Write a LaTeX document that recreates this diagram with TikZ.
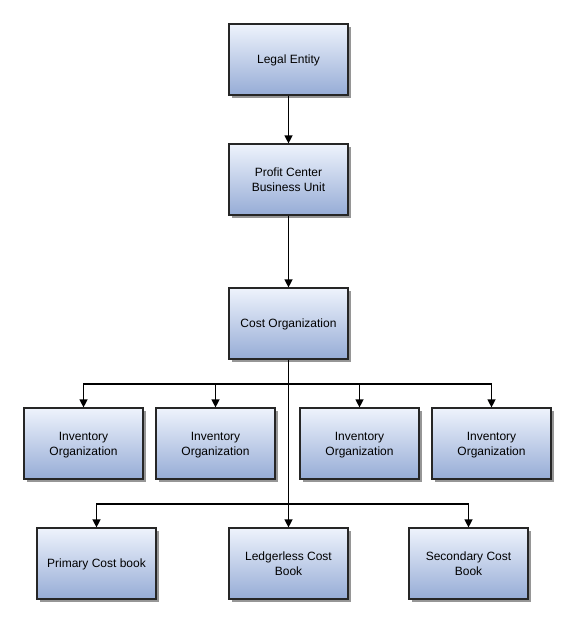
\documentclass[tikz,border=0pt]{standalone}
\usepackage{fontspec}
\setmainfont{Liberation Sans}
\usetikzlibrary{arrows.meta,shadows}
\definecolor{boxtop}{RGB}{238,243,252}
\definecolor{boxbot}{RGB}{150,172,214}
\definecolor{shadowc}{RGB}{150,150,150}
\tikzset{
  orgbox/.style={draw=black!85, line width=1.2pt, top color=boxtop, bottom color=boxbot,
    minimum width=119pt, minimum height=71pt, align=center, inner sep=2pt,
    font=\fontsize{12}{15}\selectfont, text depth=0pt,
    drop shadow={shadow xshift=2.5pt, shadow yshift=-2.5pt, fill=shadowc, opacity=1}},
  conn/.style={draw=black, line width=1.3pt},
  arr/.style={conn, -{Triangle[length=8pt,width=8pt]}}
}
\begin{document}
\begin{tikzpicture}[x=1pt,y=-1pt]
\useasboundingbox (0,0) rectangle (576,624);
\node[orgbox] (le) at (288.5,59.5) {Legal Entity};
\node[orgbox] (pc) at (288.5,179.5) {Profit Center\\Business Unit};
\node[orgbox] (co) at (288.5,323.5) {Cost Organization};
\node[orgbox] (i1) at (83.5,443.5) {Inventory\\Organization};
\node[orgbox] (i2) at (215.5,443.5) {Inventory\\Organization};
\node[orgbox] (i3) at (359.5,443.5) {Inventory\\Organization};
\node[orgbox] (i4) at (491.5,443.5) {Inventory\\Organization};
\node[orgbox] (b1) at (96.5,563.5) {Primary Cost book};
\node[orgbox] (b2) at (288.5,563.5) {Ledgerless Cost\\Book};
\node[orgbox] (b3) at (468.5,563.5) {Secondary Cost\\Book};
\coordinate (j1) at (288.5,384);
\coordinate (j2) at (288.5,504);
\draw[arr] (le) -- (pc);
\draw[arr] (pc) -- (co);
\draw[conn] (co.south) -- (j1);
\draw[arr] (j1) -| (i1.north);
\draw[arr] (j1) -| (i2.north);
\draw[arr] (j1) -| (i3.north);
\draw[arr] (j1) -| (i4.north);
\draw[arr] (j1) -- (b2.north);
\draw[arr] (j2) -| (b1.north);
\draw[arr] (j2) -| (b3.north);
\end{tikzpicture}
\end{document}
